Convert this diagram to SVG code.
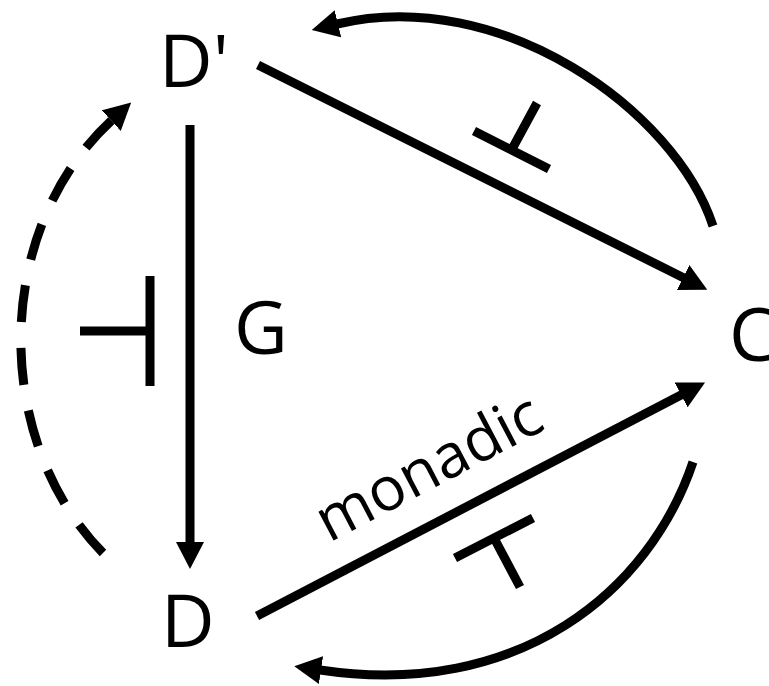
<svg xmlns="http://www.w3.org/2000/svg" width="769" height="686" viewBox="0 0 769 686">
<style>
.lbl{font-family:"Open Sans","DejaVu Sans",sans-serif;fill:#000}
.node{font-size:74px}
.edge{fill:none;stroke:#000;stroke-width:9}
.adj{fill:none;stroke:#000;stroke-width:9}
</style>
<defs>
<marker id="ah" markerUnits="userSpaceOnUse" markerWidth="27" markerHeight="28" viewBox="0 0 27 28" refX="1" refY="14" orient="auto">
<path d="M0,0 L27,14 L0,28 z" fill="#000"/>
</marker>
</defs>
<rect width="769" height="686" fill="#fff"/>
<g id="node-Dprime"><text class="lbl node" x="159" y="87">D'</text></g>
<g id="node-D"><text class="lbl node" x="161" y="647">D</text></g>
<g id="node-C"><text class="lbl node" x="729" y="361">C</text></g>
<g id="connectors">
<path class="edge" d="M258,65 L684,278" marker-end="url(#ah)"/>
<path class="edge" d="M190,125 L190,543" marker-end="url(#ah)"/>
<path class="edge" d="M257,616 L682,394.5" marker-end="url(#ah)"/>
<path class="edge" d="M713,226 C675,110 500,-15 337,24" marker-end="url(#ah)"/>
<path class="edge" d="M693,462 C650,590 520,700 320,670" marker-end="url(#ah)"/>
<path class="edge" d="M103,553 C-8,440 -8,230 112,120" stroke-dasharray="37 26" marker-end="url(#ah)"/>
<text class="lbl" x="234" y="354" font-size="74">G</text>
<text class="lbl" font-size="61" transform="translate(329,543) rotate(-27.7)">monadic</text>
<path class="adj" stroke-width="10" d="M80,331 H150 M150,276 V386"/>
<path class="adj" d="M474,131 L549,169 M511.5,150 L537,103"/>
<path class="adj" d="M455,558 L533,518 M494,538 L520,587"/>
</g>
</svg>
